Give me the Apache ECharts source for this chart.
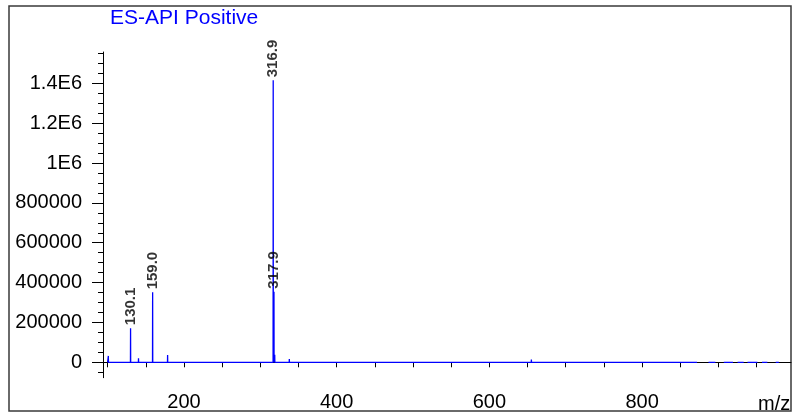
<!DOCTYPE html>
<html>
<head>
<meta charset="utf-8">
<script src="https://cdn.jsdelivr.net/npm/echarts@6/dist/echarts.min.js"></script>
<style>
html,body{margin:0;padding:0;background:#fff;}
#chart{width:793px;height:413px;}
</style>
</head>
<body>
<div id="chart"></div>
<script>
// ---- data ----
var titleText = 'ES-API Positive';
var xAxisName = 'm/z';
// peaks (m/z, intensity)
var peakMz  = [101.0, 112.0, 130.1, 140.5, 159.0, 178.6, 227.0, 316.9, 317.9, 318.9, 338.0, 358.6, 655.0];
var peakInt = [32000, 8000, 171000, 20000, 351000, 37000, 5000, 1415000, 354000, 38000, 17000, 7000, 14000];
// labelled peaks
var labelMz  = [130.1, 159.0, 316.9, 317.9];
var labelInt = [171000, 351000, 1415000, 354000];
var labelText = ['130.1', '159.0', '316.9', '317.9'];
// baseline segments with data (gaps between them)
var segStart = [100, 887, 907, 925, 938, 957, 975];
var segEnd   = [872, 896, 919, 933, 951, 964, 979];
// axis ticks
var xTickValues  = [100,150,200,250,300,350,400,450,500,550,600,650,700,750,800,850,900,950];
var xLabelValues = [200,400,600,800];
var yLabelValues = [0,200000,400000,600000,800000,1000000,1200000,1400000];
var yMinorValues = [-50000,0,50000,100000,150000,200000,250000,300000,350000,400000,450000,500000,550000,600000,650000,700000,750000,800000,850000,900000,950000,1000000,1050000,1100000,1150000,1200000,1250000,1300000,1350000,1400000,1450000,1500000,1550000];

// ---- build line data ----
var lineData = [];
for (var s = 0; s < segStart.length; s++) {
  lineData.push([segStart[s], 0]);
  for (var i = 0; i < peakMz.length; i++) {
    if (peakMz[i] > segStart[s] && peakMz[i] < segEnd[s]) {
      lineData.push([peakMz[i] - 0.15, 0]);
      lineData.push([peakMz[i], peakInt[i]]);
      lineData.push([peakMz[i] + 0.15, 0]);
    }
  }
  lineData.push([segEnd[s], 0]);
  if (s < segStart.length - 1) lineData.push([ (segEnd[s] + segStart[s+1]) / 2, null ]);
}
var labelData = labelMz.map(function (m, i) { return { value: [m, labelInt[i]], name: labelText[i] }; });

var FONT = "'Liberation Sans', Arial, sans-serif";
var chart = echarts.init(document.getElementById('chart'), null, {renderer: 'canvas'});
chart.setOption({
  animation: false,
  backgroundColor: '#ffffff',
  title: {
    text: titleText, left: 110, top: 8, padding: 0,
    textStyle: {color: '#0000ff', fontSize: 21, fontWeight: 'normal', fontFamily: FONT}
  },
  grid: {left: 103, right: 2, top: 52, bottom: 35.3, containLabel: false},
  xAxis: {
    type: 'value', min: 94, max: 995,
    axisLine: {show: true, lineStyle: {color: '#000', width: 1}},
    axisTick: {show: true, customValues: xTickValues, length: 5, lineStyle: {color: '#000'}},
    axisLabel: {show: true, customValues: xLabelValues, fontSize: 20, color: '#000', fontFamily: FONT, margin: 15},
    splitLine: {show: false}
  },
  yAxis: [{
    type: 'value', min: -77300, max: 1557000, position: 'left',
    axisLine: {show: true, lineStyle: {color: '#000', width: 1}},
    axisTick: {show: true, customValues: yLabelValues, length: 11, lineStyle: {color: '#000'}},
    axisLabel: {
      show: true, customValues: yLabelValues, fontSize: 20, color: '#000', fontFamily: FONT, margin: 21,
      formatter: function (v) { return v >= 1000000 ? (v / 1000000) + 'E6' : String(v); }
    },
    splitLine: {show: false}
  }, {
    type: 'value', min: -77300, max: 1557000, position: 'left', offset: 0,
    axisLine: {show: false},
    axisTick: {show: true, customValues: yMinorValues, length: 5, lineStyle: {color: '#000'}},
    axisLabel: {show: false},
    splitLine: {show: false}
  }],
  series: [{
    type: 'line', data: lineData, showSymbol: false, symbol: 'none',
    connectNulls: false, clip: true,
    lineStyle: {color: '#0000ff', width: 1.3}, z: 2
  }, {
    type: 'scatter', data: labelData, symbolSize: 0, silent: true,
    label: {
      show: true, position: 'top', distance: 3, rotate: 90, align: 'left', verticalAlign: 'middle',
      formatter: function (p) { return p.name; },
      fontSize: 15, fontWeight: 'bold', color: '#000', fontFamily: FONT
    }, z: 3
  }],
  graphic: [{
    type: 'rect', shape: {x: 9, y: 6, width: 782, height: 405},
    style: {fill: 'none', stroke: '#3a3a3a', lineWidth: 1.5}, silent: true
  }, {
    type: 'text', left: 758, top: 394,
    style: {text: xAxisName, font: '20px ' + FONT, fill: '#000'}
  }]
});
</script>
</body>
</html>
